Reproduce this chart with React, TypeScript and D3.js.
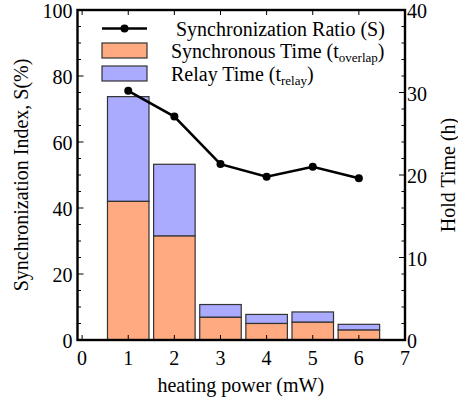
import React from "react";
import * as d3 from "d3";

const powers = [1, 2, 3, 4, 5, 6];
const holdTotal = [29.5, 21.3, 4.3, 3.1, 3.4, 1.9];
const holdOverlap = [16.8, 12.6, 2.75, 2.0, 2.15, 1.2];
const syncRatio = [75.5, 67.7, 53.3, 49.5, 52.5, 49.0];
const xTicks = [0, 1, 2, 3, 4, 5, 6, 7];
const yLeftTicks = [0, 20, 40, 60, 80, 100];
const yRightTicks = [0, 10, 20, 30, 40];

const W = 458;
const H = 399;
const L = 77.5, R = 405, T = 10, B = 340;
const FONT = "Liberation Serif, Times New Roman, Times, serif";
const ORANGE = "#FFAA80";
const BLUE = "#AAAAFF";
const BAR_STROKE = "#333333";

export default function App() {
  const x = d3.scaleLinear().domain([-0.1, 7]).range([L, R]);
  const yL = d3.scaleLinear().domain([0, 100]).range([B, T]);
  const yR = d3.scaleLinear().domain([0, 40]).range([B, T]);
  const bw = x(0.9) - x(0);
  const line = d3
    .line<number>()
    .x((_, i) => x(powers[i]))
    .y((d) => yL(d));

  const leftMinor = d3.range(0, 101, 5);
  const rightMinor = d3.range(0, 41, 2);
  const ts = { fontFamily: FONT, fontSize: 20 } as React.CSSProperties;

  return (
    <svg
      width={W}
      height={H}
      style={{ position: "absolute", left: 0, top: 0, fontFamily: FONT }}
    >
      <rect x={0} y={0} width={W} height={H} fill="white" />
      {/* bars */}
      {powers.map((p, i) => (
        <g key={"b" + i}>
          <rect
            x={x(p) - bw / 2}
            y={yR(holdTotal[i])}
            width={bw}
            height={yR(holdOverlap[i]) - yR(holdTotal[i])}
            fill={BLUE}
            stroke={BAR_STROKE}
            strokeWidth={1.2}
          />
          <rect
            x={x(p) - bw / 2}
            y={yR(holdOverlap[i])}
            width={bw}
            height={yR(0) - yR(holdOverlap[i])}
            fill={ORANGE}
            stroke={BAR_STROKE}
            strokeWidth={1.2}
          />
        </g>
      ))}
      {/* ticks */}
      {leftMinor.map((v) => (
        <line key={"lm" + v} x1={L} x2={L + (v % 20 === 0 ? 6 : 3.5)} y1={yL(v)} y2={yL(v)} stroke="#000" strokeWidth={1} />
      ))}
      {rightMinor.map((v) => (
        <line key={"rm" + v} x1={R} x2={R - (v % 10 === 0 ? 6 : 3.5)} y1={yR(v)} y2={yR(v)} stroke="#000" strokeWidth={1} />
      ))}
      {xTicks.map((v) => (
        <g key={"xt" + v}>
          <line x1={x(v)} x2={x(v)} y1={B} y2={B - 5} stroke="#000" strokeWidth={1} />
          <line x1={x(v)} x2={x(v)} y1={T} y2={T + 5} stroke="#000" strokeWidth={1} />
        </g>
      ))}
      {/* frame */}
      <rect x={L} y={T} width={R - L} height={B - T} fill="none" stroke="#000" strokeWidth={2.4} />
      {/* line series */}
      <path d={line(syncRatio) || ""} fill="none" stroke="#000" strokeWidth={2.5} />
      {syncRatio.map((v, i) => (
        <circle key={"c" + i} cx={x(powers[i])} cy={yL(v)} r={4} fill="#000" />
      ))}
      {/* tick labels */}
      {yLeftTicks.map((v) => (
        <text key={"yl" + v} x={L - 5} y={yL(v)} dy="0.4em" textAnchor="end" style={ts}>
          {v}
        </text>
      ))}
      {yRightTicks.map((v) => (
        <text key={"yr" + v} x={R + 2} y={yR(v)} dy="0.4em" textAnchor="start" style={ts}>
          {v}
        </text>
      ))}
      {xTicks.map((v) => (
        <text key={"xl" + v} x={x(v)} y={B + 25} textAnchor="middle" style={ts}>
          {v}
        </text>
      ))}
      {/* axis titles */}
      <text x={(L + R) / 2 - 0.5} y={392} textAnchor="middle" style={ts}>
        heating power (mW)
      </text>
      <text
        transform={`translate(28, ${(T + B) / 2}) rotate(-90)`}
        textAnchor="middle"
        style={ts}
      >
        Synchronization Index, S(%)
      </text>
      <text
        transform={`translate(455, ${(T + B) / 2}) rotate(-90)`}
        textAnchor="middle"
        style={ts}
      >
        Hold Time (h)
      </text>
      {/* legend */}
      <g>
        <line x1={102} x2={147} y1={28.5} y2={28.5} stroke="#000" strokeWidth={2.5} />
        <circle cx={124.5} cy={28.5} r={4} fill="#000" />
        <text x={176} y={28.5} dy="0.35em" style={ts}>
          Synchronization Ratio (S)
        </text>
        <rect x={102} y={43} width={45} height={15} fill={ORANGE} stroke={BAR_STROKE} strokeWidth={1.2} />
        <text x={171} y={51} dy="0.35em" style={ts}>
          Synchronous Time (t
          <tspan style={{ fontSize: 13 }} dy={4}>overlap</tspan>
          <tspan dy={-4}>)</tspan>
        </text>
        <rect x={102} y={66} width={45} height={15} fill={BLUE} stroke={BAR_STROKE} strokeWidth={1.2} />
        <text x={171} y={74} dy="0.35em" style={ts}>
          Relay Time (t
          <tspan style={{ fontSize: 13 }} dy={4}>relay</tspan>
          <tspan dy={-4}>)</tspan>
        </text>
      </g>
    </svg>
  );
}
